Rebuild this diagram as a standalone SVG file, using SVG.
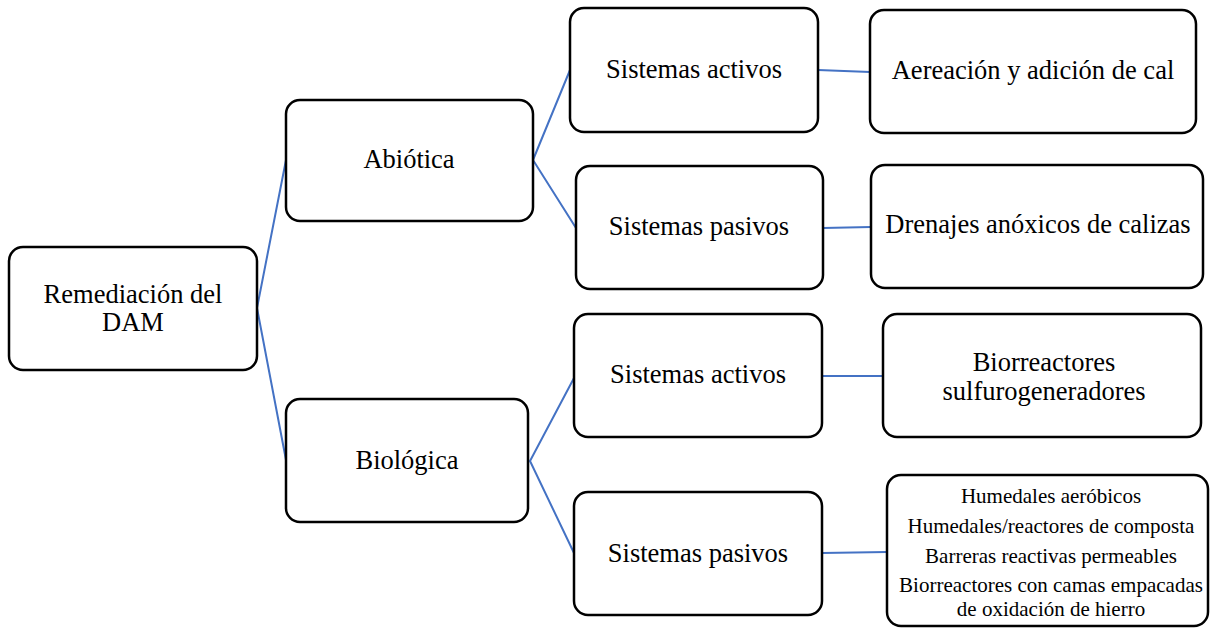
<svg xmlns="http://www.w3.org/2000/svg" width="1211" height="628" viewBox="0 0 1211 628">
<style>
.box{fill:#fff;stroke:#000;stroke-width:2.5}
.t{font-family:"Liberation Serif","Times New Roman",serif;font-size:26.5px;fill:#000;text-anchor:middle}
.s{font-family:"Liberation Serif","Times New Roman",serif;font-size:21px;fill:#000;text-anchor:middle}
.c{stroke:#4472C4;stroke-width:2;fill:none}
</style>
<rect width="1211" height="628" fill="#fff"/>
<g id="connectors">
<polyline class="c" points="286,160 257,308 286,460"/>
<polyline class="c" points="570,70 533,160 576,228"/>
<polyline class="c" points="574,378 530,461 574,553"/>
<line class="c" x1="818" y1="70" x2="870" y2="72"/>
<line class="c" x1="823" y1="228" x2="871" y2="227"/>
<line class="c" x1="822" y1="376" x2="883" y2="376"/>
<line class="c" x1="822" y1="553" x2="887" y2="552"/>
</g>
<g id="root"><rect class="box" x="9" y="247" width="248" height="123" rx="14"/>
<text class="t" x="133" y="303">Remediación del</text><text class="t" x="133" y="331">DAM</text></g>
<g id="abiotica"><rect class="box" x="286" y="100" width="247" height="121" rx="14"/>
<text class="t" x="409" y="168">Abiótica</text></g>
<g id="biologica"><rect class="box" x="286" y="399" width="242" height="123" rx="14"/>
<text class="t" x="407" y="469">Biológica</text></g>
<g id="abio-activos"><rect class="box" x="570" y="8" width="248" height="124" rx="14"/>
<text class="t" x="694" y="78">Sistemas activos</text></g>
<g id="abio-pasivos"><rect class="box" x="576" y="166" width="247" height="123" rx="14"/>
<text class="t" x="699" y="235">Sistemas pasivos</text></g>
<g id="aereacion"><rect class="box" x="870" y="10" width="326" height="123" rx="14"/>
<text class="t" x="1033" y="79">Aereación y adición de cal</text></g>
<g id="drenajes"><rect class="box" x="871" y="165" width="332" height="123" rx="14"/>
<text class="t" x="1038" y="233">Drenajes anóxicos de calizas</text></g>
<g id="bio-activos"><rect class="box" x="574" y="314" width="248" height="123" rx="14"/>
<text class="t" x="698" y="383">Sistemas activos</text></g>
<g id="bio-pasivos"><rect class="box" x="574" y="492" width="248" height="123" rx="14"/>
<text class="t" x="698" y="562">Sistemas pasivos</text></g>
<g id="biorreactores"><rect class="box" x="883" y="314" width="318" height="123" rx="14"/>
<text class="t" x="1044" y="371">Biorreactores</text><text class="t" x="1044" y="400">sulfurogeneradores</text></g>
<g id="pasivos-lista"><rect class="box" x="887" y="475" width="321" height="151" rx="14"/>
<text class="s" x="1051" y="503">Humedales aeróbicos</text>
<text class="s" x="1051" y="533">Humedales/reactores de composta</text>
<text class="s" x="1051" y="563">Barreras reactivas permeables</text>
<text class="s" x="1051" y="592">Biorreactores con camas empacadas</text>
<text class="s" x="1051" y="616">de oxidación de hierro</text></g>
</svg>
